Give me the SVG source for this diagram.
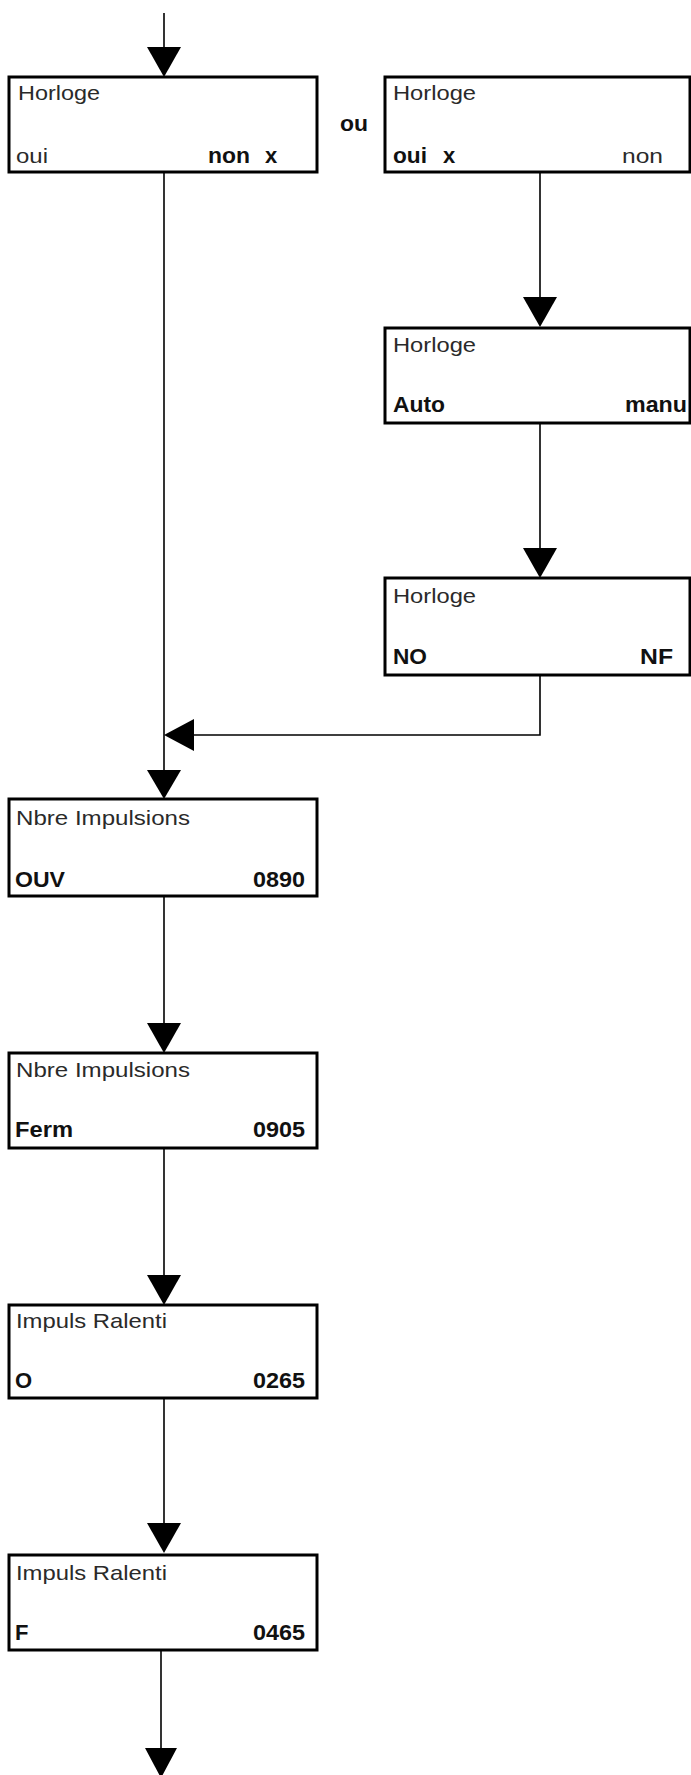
<svg xmlns="http://www.w3.org/2000/svg" width="691" height="1775" viewBox="0 0 691 1775">
<style>
.box{fill:#fff;stroke:#000;stroke-width:3}
.ln{fill:none;stroke:#000;stroke-width:1.6}
.ah{fill:#000;stroke:none}
text{font-family:"Liberation Sans",Arial,sans-serif}
.r{font-size:21px;fill:#2a2a2a}
.b{font-size:22px;font-weight:bold;fill:#111}
</style>
<rect width="691" height="1775" fill="#fff"/>
<g id="connectors">
<line class="ln" x1="164" y1="13" x2="164" y2="50"/>
<polygon class="ah" points="147,47 181,47 164,77"/>
<line class="ln" x1="164" y1="172" x2="164" y2="772"/>
<polygon class="ah" points="147,770 181,770 164,799"/>
<line class="ln" x1="540" y1="172" x2="540" y2="300"/>
<polygon class="ah" points="523,297 557,297 540,327"/>
<line class="ln" x1="540" y1="423" x2="540" y2="550"/>
<polygon class="ah" points="523,548 557,548 540,578"/>
<polyline class="ln" points="540,675 540,735 190,735"/>
<polygon class="ah" points="194,719 194,751 164,735"/>
<line class="ln" x1="164" y1="896" x2="164" y2="1025"/>
<polygon class="ah" points="147,1023 181,1023 164,1053"/>
<line class="ln" x1="164" y1="1148" x2="164" y2="1277"/>
<polygon class="ah" points="147,1275 181,1275 164,1305"/>
<line class="ln" x1="164" y1="1398" x2="164" y2="1525"/>
<polygon class="ah" points="147,1523 181,1523 164,1553"/>
<line class="ln" x1="161" y1="1650" x2="161" y2="1750"/>
<polygon class="ah" points="145,1748 177,1748 161,1778"/>
</g>
<g id="node1">
<rect class="box" x="9" y="77" width="308" height="95"/>
<text class="r" x="18" y="100" textLength="82" lengthAdjust="spacingAndGlyphs">Horloge</text>
<text class="r" x="16" y="163" textLength="32" lengthAdjust="spacingAndGlyphs">oui</text>
<text class="b" y="163"><tspan x="208" textLength="42" lengthAdjust="spacingAndGlyphs">non</tspan><tspan x="265">x</tspan></text>
</g>
<g id="label-ou">
<text class="b" x="340" y="131" textLength="28" lengthAdjust="spacingAndGlyphs">ou</text>
</g>
<g id="node2">
<rect class="box" x="385" y="77" width="305" height="95"/>
<text class="r" x="393" y="100" textLength="83" lengthAdjust="spacingAndGlyphs">Horloge</text>
<text class="b" y="163"><tspan x="393" textLength="34" lengthAdjust="spacingAndGlyphs">oui</tspan><tspan x="443">x</tspan></text>
<text class="r" x="622" y="163" textLength="41" lengthAdjust="spacingAndGlyphs">non</text>
</g>
<g id="node3">
<rect class="box" x="385" y="328" width="305" height="95"/>
<text class="r" x="393" y="352" textLength="83" lengthAdjust="spacingAndGlyphs">Horloge</text>
<text class="b" x="393" y="412" textLength="52" lengthAdjust="spacingAndGlyphs">Auto</text>
<text class="b" x="625" y="412" textLength="62" lengthAdjust="spacingAndGlyphs">manu</text>
</g>
<g id="node4">
<rect class="box" x="385" y="578" width="305" height="97"/>
<text class="r" x="393" y="603" textLength="83" lengthAdjust="spacingAndGlyphs">Horloge</text>
<text class="b" x="393" y="664" textLength="34" lengthAdjust="spacingAndGlyphs">NO</text>
<text class="b" x="640" y="664" textLength="33" lengthAdjust="spacingAndGlyphs">NF</text>
</g>
<g id="node5">
<rect class="box" x="9" y="799" width="308" height="97"/>
<text class="r" x="16" y="825" textLength="174" lengthAdjust="spacingAndGlyphs">Nbre Impulsions</text>
<text class="b" x="15" y="887" textLength="50" lengthAdjust="spacingAndGlyphs">OUV</text>
<text class="b" x="253" y="887" textLength="52" lengthAdjust="spacingAndGlyphs">0890</text>
</g>
<g id="node6">
<rect class="box" x="9" y="1053" width="308" height="95"/>
<text class="r" x="16" y="1077" textLength="174" lengthAdjust="spacingAndGlyphs">Nbre Impulsions</text>
<text class="b" x="15" y="1137" textLength="58" lengthAdjust="spacingAndGlyphs">Ferm</text>
<text class="b" x="253" y="1137" textLength="52" lengthAdjust="spacingAndGlyphs">0905</text>
</g>
<g id="node7">
<rect class="box" x="9" y="1305" width="308" height="93"/>
<text class="r" x="16" y="1328" textLength="151" lengthAdjust="spacingAndGlyphs">Impuls Ralenti</text>
<text class="b" x="15" y="1388">O</text>
<text class="b" x="253" y="1388" textLength="52" lengthAdjust="spacingAndGlyphs">0265</text>
</g>
<g id="node8">
<rect class="box" x="9" y="1555" width="308" height="95"/>
<text class="r" x="16" y="1580" textLength="151" lengthAdjust="spacingAndGlyphs">Impuls Ralenti</text>
<text class="b" x="15" y="1640">F</text>
<text class="b" x="253" y="1640" textLength="52" lengthAdjust="spacingAndGlyphs">0465</text>
</g>
</svg>
